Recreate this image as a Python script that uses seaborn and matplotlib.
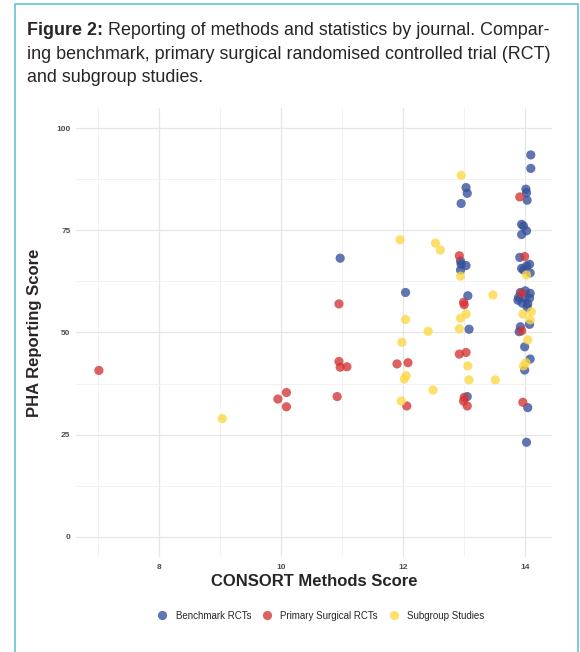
import pandas as pd
import seaborn as sns
import matplotlib.pyplot as plt
from matplotlib.patches import Rectangle

# Benchmark RCTs (CONSORT methods score, PHA reporting score)
bench_x = [10.97, 12.04, 13.03, 13.05, 12.95, 12.94, 12.95, 13.03, 12.94, 13.06, 13.08, 13.05,
           14.09, 14.09, 14.01, 14.02, 14.03, 13.94, 13.97, 14.02, 13.94, 13.91, 14.07, 13.94,
           14.02, 14.08, 13.97, 13.92, 14.00, 14.08, 13.89, 13.99, 14.07, 13.95, 14.04, 13.88,
           14.03, 14.07, 13.92, 13.90, 13.99, 14.08, 13.99, 14.04, 14.02]
bench_y = [68.2, 59.8, 85.5, 84.1, 81.6, 67.5, 66.7, 66.4, 65.3, 59.0, 50.8, 34.3,
           93.5, 90.2, 85.1, 84.2, 82.4, 76.5, 76.1, 74.9, 74.0, 68.4, 66.7, 65.7,
           66.3, 64.6, 65.3, 59.8, 60.2, 59.6, 58.6, 58.4, 58.4, 57.2, 57.0, 57.9,
           56.2, 52.0, 51.4, 50.2, 46.5, 43.5, 40.8, 31.6, 23.1]

# Primary surgical RCTs
prim_x = [7.02, 9.95, 10.09, 10.09, 10.95, 10.95, 10.97, 11.08, 10.92, 11.90, 12.08, 12.06,
          12.92, 12.99, 13.00, 12.92, 13.03, 13.00, 12.99, 13.05, 13.91, 13.99, 13.94, 13.94,
          13.96]
prim_y = [40.7, 33.7, 35.3, 31.8, 57.0, 42.9, 41.5, 41.6, 34.3, 42.3, 42.6, 32.0,
          68.8, 57.4, 56.8, 44.7, 45.1, 34.1, 33.2, 32.0, 83.2, 68.6, 59.6, 50.4,
          32.9]

# Subgroup studies
sub_x = [9.04, 11.95, 12.04, 11.98, 12.05, 12.02, 11.97, 12.95, 12.53, 12.61, 12.41, 12.49,
         12.94, 13.03, 12.94, 12.92, 13.06, 13.08, 13.47, 13.51, 14.02, 13.96, 14.10, 14.08,
         14.04, 14.01, 13.97]
sub_y = [28.9, 72.7, 53.2, 47.6, 39.4, 38.6, 33.2, 88.5, 71.9, 70.2, 50.3, 35.9,
         63.8, 54.5, 53.5, 50.9, 41.8, 38.4, 59.2, 38.4, 64.1, 54.5, 55.1, 53.1,
         48.2, 42.6, 41.8]

groups = ['Benchmark RCTs', 'Primary Surgical RCTs', 'Subgroup Studies']
colours = ['#34509a', '#d43535', '#fdd843']

df = pd.concat([
    pd.DataFrame({'methods': bench_x, 'pha': bench_y, 'group': groups[0]}),
    pd.DataFrame({'methods': prim_x, 'pha': prim_y, 'group': groups[1]}),
    pd.DataFrame({'methods': sub_x, 'pha': sub_y, 'group': groups[2]}),
])

sns.set_theme(style='white')
plt.rcParams['font.family'] = ['Liberation Sans', 'DejaVu Sans']

fig = plt.figure(figsize=(5.8, 6.52), dpi=100)

# thin blue frame round the figure box
fig.patches.append(Rectangle((15 / 580, -0.05), 563 / 580, 1.05 - 4 / 652, transform=fig.transFigure,
                             fill=False, edgecolor='#6cc6d8', linewidth=1.3))

# caption
base = [0.9463, 0.9095, 0.8742]
t = fig.text(27 / 580, base[0], 'Figure 2:', fontsize=12.9, fontweight='bold', va='baseline')
fig.canvas.draw()
bb = t.get_window_extent()
fig.text(bb.x1 / fig.bbox.width, base[0], ' Reporting of methods and statistics by journal. Compar-',
         fontsize=12.9, va='baseline')
fig.text(27 / 580, base[1], 'ing benchmark, primary surgical randomised controlled trial (RCT)',
         fontsize=12.9, va='baseline')
fig.text(27 / 580, base[2], 'and subgroup studies.', fontsize=12.9, va='baseline')

ax = fig.add_axes([0.131, 0.1457, 0.821, 0.6887])
sns.scatterplot(data=df, x='methods', y='pha', hue='group', hue_order=groups,
                palette=colours, s=44, alpha=0.78, linewidth=0, ax=ax)

ax.set_xlim(6.645, 14.44)
ax.set_ylim(-5, 105)
ax.set_xticks([8, 10, 12, 14])
ax.set_xticks([7, 9, 11, 13], minor=True)
ax.set_yticks([0, 25, 50, 75, 100])
ax.set_yticks([12.5, 37.5, 62.5, 87.5], minor=True)
ax.grid(which='major', color='#e6e6e6', linewidth=0.9)
ax.grid(which='minor', color='#f2f2f2', linewidth=0.7)
ax.set_axisbelow(True)
for s in ax.spines.values():
    s.set_visible(False)
ax.tick_params(which='both', length=0, labelsize=6, labelcolor='#4d4d4d')
ax.tick_params(axis='y', pad=4)
ax.tick_params(axis='x', pad=5)
for lab in ax.get_xticklabels() + ax.get_yticklabels():
    lab.set_fontweight('bold')

ax.set_xlabel('CONSORT Methods Score', fontsize=12, fontweight='bold', labelpad=2)
ax.set_ylabel('PHA Reporting Score', fontsize=12, fontweight='bold', labelpad=10)

sns.move_legend(ax, 'center', bbox_to_anchor=(0.549, 0.0555), bbox_transform=fig.transFigure,
                ncol=3, title=None, frameon=False, fontsize=7, handletextpad=0.4,
                columnspacing=0.6, markerscale=1.0)

fig.savefig('out.png', dpi=100)
